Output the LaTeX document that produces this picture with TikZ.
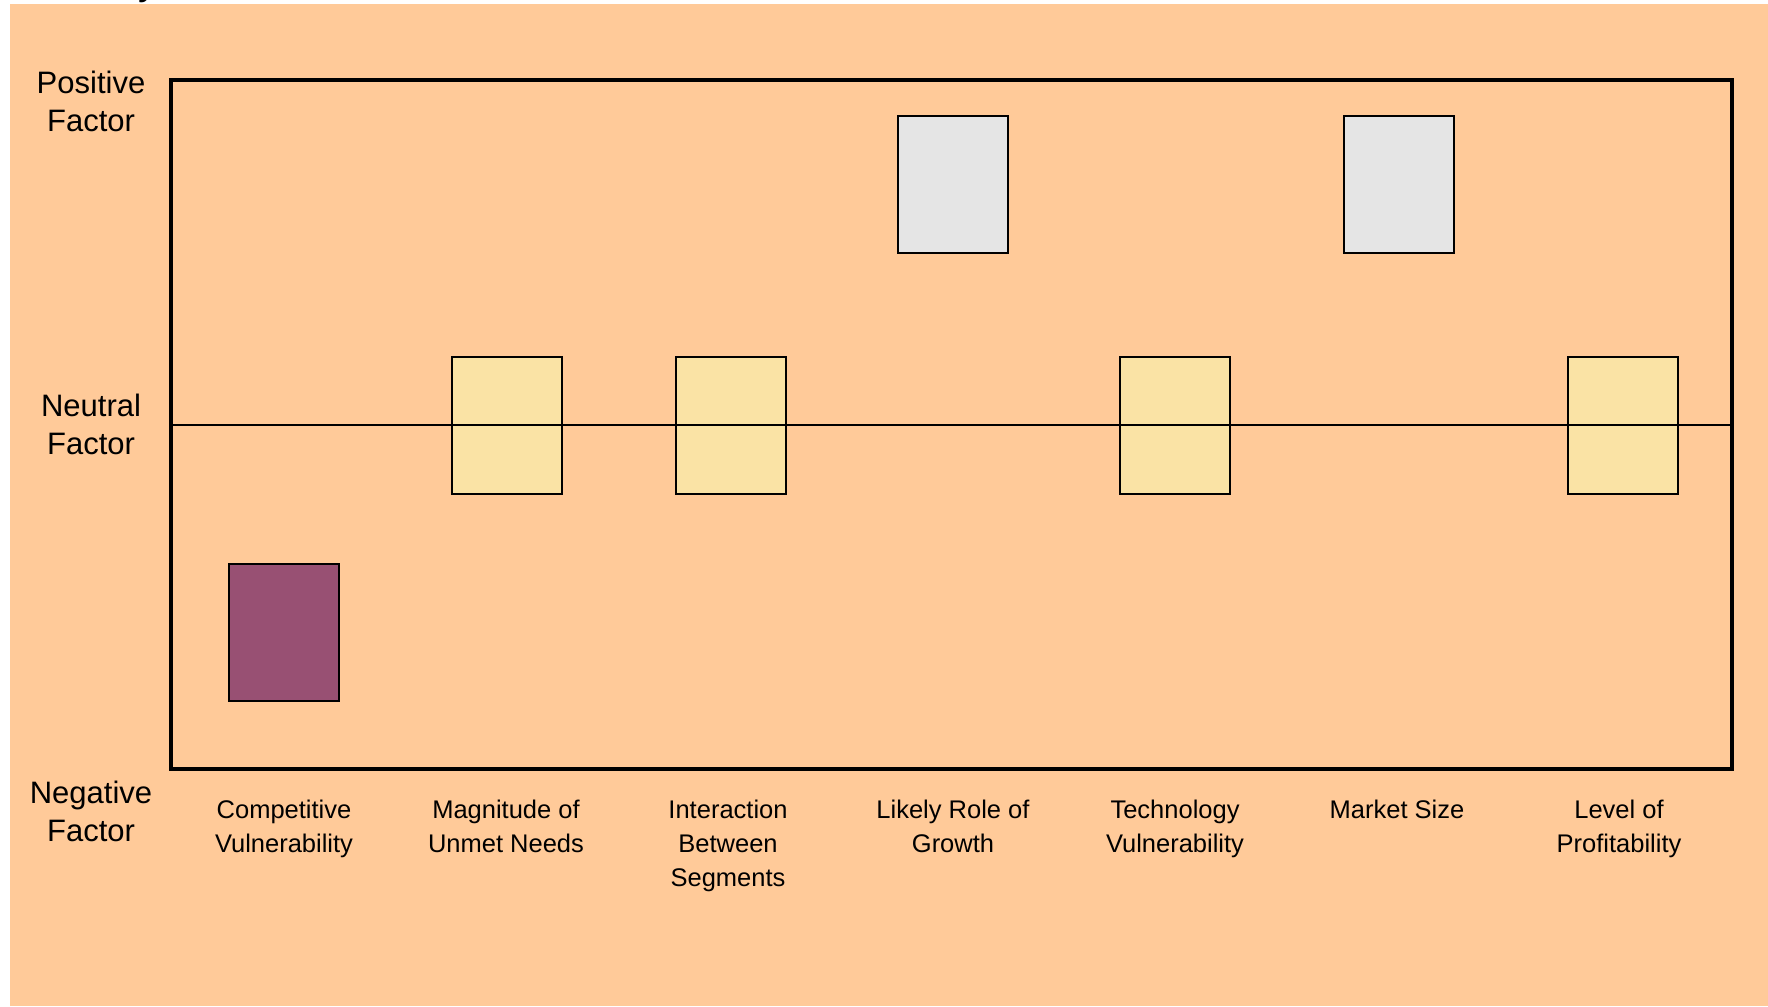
\documentclass[tikz,border=0pt]{standalone}
\usepackage{fontspec}
\setmainfont{Liberation Sans}
\definecolor{peach}{HTML}{FFCA99}
\definecolor{neutralfill}{HTML}{FAE3A5}
\definecolor{posfill}{HTML}{E5E5E5}
\definecolor{negfill}{HTML}{985073}
\tikzset{
  bar/.style={draw=black, line width=2pt, minimum width=110pt, minimum height=137pt, inner sep=0pt},
  axislabel/.style={font=\fontsize{31}{38}\selectfont, align=center, inner sep=0pt},
  catlabel/.style={font=\fontsize{25.5}{34}\selectfont, align=center, inner sep=0pt, anchor=north},
}
\begin{document}
\begin{tikzpicture}[x=1pt,y=-1pt]
\useasboundingbox (0,0) rectangle (1768,1006);
\fill[white] (0,0) rectangle (1768,1006);
\fill[peach] (10,4) rectangle (1768,1006);
% clipped title fragment
\node[font=\fontsize{40}{40}\selectfont, anchor=base west, inner sep=0pt] (title) at (138,-5) {y};
% frame
\node[draw=black, line width=4pt, minimum width=1561pt, minimum height=689pt, inner sep=0pt] (frame) at (951.5,424.5) {};
% boxes
\node[bar, fill=negfill] (b1) at (283.5,632.5) {};
\node[bar, fill=neutralfill] (b2) at (507,425) {};
\node[bar, fill=neutralfill] (b3) at (730.5,425) {};
\node[bar, fill=posfill] (b4) at (953,184.5) {};
\node[bar, fill=neutralfill] (b5) at (1175,425) {};
\node[bar, fill=posfill] (b6) at (1398.5,184.5) {};
\node[bar, fill=neutralfill] (b7) at (1622.5,425) {};
% neutral line
\coordinate (nl) at (frame.west |- 0,425);
\coordinate (nr) at (frame.east |- 0,425);
\draw[line width=1.5pt] (nl) -- (nr);
% axis labels
\node[axislabel] (pos) at (91,101) {Positive\\Factor};
\node[axislabel] (neu) at (91,424) {Neutral\\Factor};
\node[axislabel] (neg) at (91,811) {Negative\\Factor};
% category labels
\node[catlabel] (c1) at (284,800) {Competitive\\Vulnerability};
\node[catlabel] (c2) at (506,800) {Magnitude of\\Unmet Needs};
\node[catlabel] (c3) at (728,800) {Interaction\\Between\\Segments};
\node[catlabel] (c4) at (953,800) {Likely Role of\\Growth};
\node[catlabel] (c5) at (1175,800) {Technology\\Vulnerability};
\node[catlabel] (c6) at (1397,800) {Market Size};
\node[catlabel] (c7) at (1619,800) {Level of\\Profitability};
\end{tikzpicture}
\end{document}
